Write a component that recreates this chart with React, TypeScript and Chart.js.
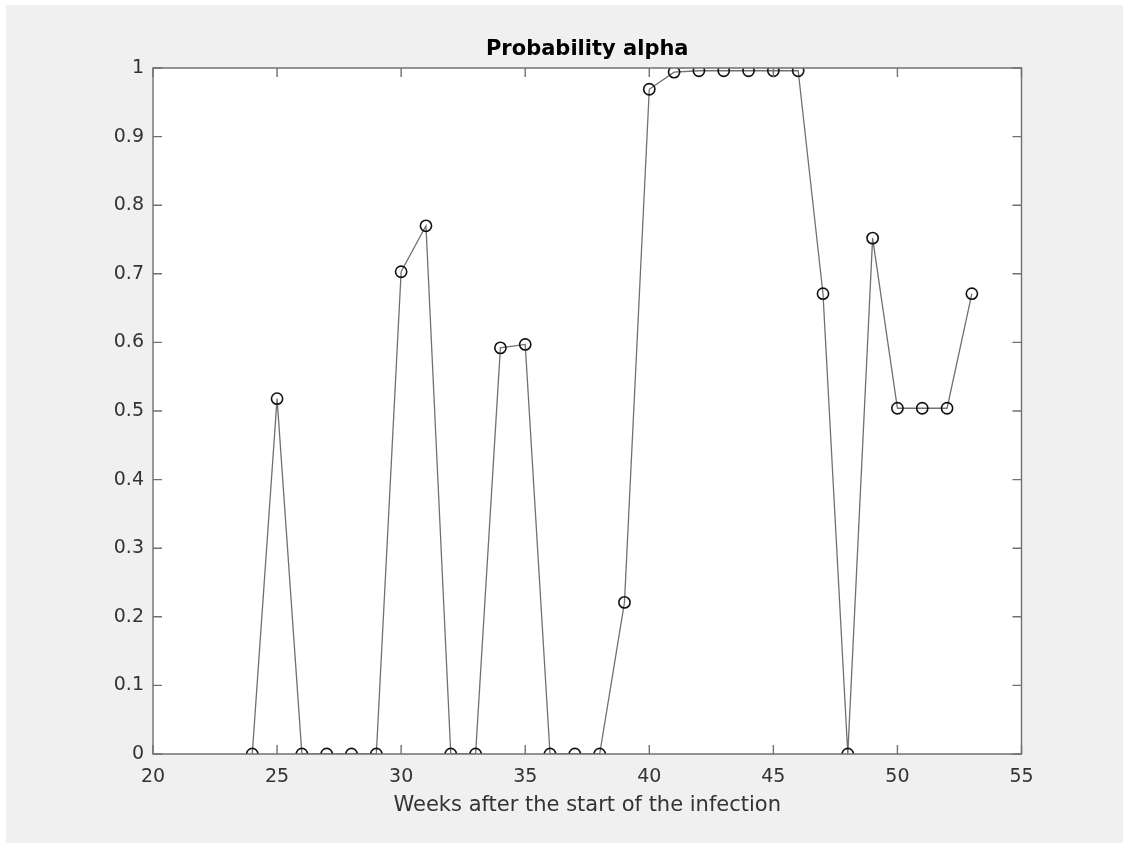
import React, { useEffect, useRef } from "react";
import { Chart, registerables } from "chart.js";

Chart.register(...registerables);

const weeks = [24, 25, 26, 27, 28, 29, 30, 31, 32, 33, 34, 35, 36, 37, 38, 39, 40, 41, 42, 43, 44, 45, 46, 47, 48, 49, 50, 51, 52, 53];
const alpha = [0, 0.518, 0, 0, 0, 0, 0.703, 0.770, 0, 0, 0.592, 0.597, 0, 0, 0, 0.221, 0.969, 0.994, 0.996, 0.996, 0.996, 0.996, 0.996, 0.671, 0, 0.752, 0.504, 0.504, 0.504, 0.671];
const xTicks = [20, 25, 30, 35, 40, 45, 50, 55];
const yTicks = [0, 0.1, 0.2, 0.3, 0.4, 0.5, 0.6, 0.7, 0.8, 0.9, 1];
const yTickLabels = ["0", "0.1", "0.2", "0.3", "0.4", "0.5", "0.6", "0.7", "0.8", "0.9", "1"];
const xTickLabels = ["20", "25", "30", "35", "40", "45", "50", "55"];
const titleText = "Probability alpha";
const xLabelText = "Weeks after the start of the infection";

const FONT = "'DejaVu Sans', sans-serif";

const boxPlugin = {
  id: "matlabBox",
  afterLayout(chart: any) {
    const tb = chart.titleBlock;
    if (tb) {
      tb.left = chart.chartArea.left;
      tb.right = chart.chartArea.right;
    }
  },
  afterDraw(chart: any) {
    const { ctx, chartArea } = chart;
    const { left, right, top, bottom } = chartArea;
    const xs = chart.scales.x;
    const ys = chart.scales.y;
    const tl = 9;
    ctx.save();
    ctx.strokeStyle = "#707070";
    ctx.lineWidth = 1.4;
    ctx.beginPath();
    ctx.rect(left, top, right - left, bottom - top);
    ctx.stroke();
    ctx.beginPath();
    xTicks.forEach((v) => {
      const px = xs.getPixelForValue(v);
      ctx.moveTo(px, bottom);
      ctx.lineTo(px, bottom - tl);
      ctx.moveTo(px, top);
      ctx.lineTo(px, top + tl);
    });
    yTicks.forEach((v) => {
      const py = ys.getPixelForValue(v);
      ctx.moveTo(left, py);
      ctx.lineTo(left + tl, py);
      ctx.moveTo(right, py);
      ctx.lineTo(right - tl, py);
    });
    ctx.stroke();
    ctx.restore();
  },
};

const bgPlugin = {
  id: "areaBg",
  beforeDraw(chart: any) {
    const { ctx, chartArea } = chart;
    ctx.save();
    ctx.fillStyle = "#ffffff";
    ctx.fillRect(chartArea.left, chartArea.top, chartArea.right - chartArea.left, chartArea.bottom - chartArea.top);
    ctx.restore();
  },
};

export default function App() {
  const ref = useRef<HTMLCanvasElement | null>(null);
  useEffect(() => {
    if (!ref.current) return;
    const chart = new Chart(ref.current, {
      type: "line",
      data: {
        datasets: [
          {
            data: weeks.map((w, i) => ({ x: w, y: alpha[i] })),
            borderColor: "#707070",
            borderWidth: 1.3,
            pointRadius: 5.6,
            pointBorderColor: "#111111",
            pointBorderWidth: 1.6,
            pointBackgroundColor: "rgba(0,0,0,0)",
            tension: 0,
            fill: false,
          },
        ],
      },
      options: {
        animation: false,
        responsive: false,
        maintainAspectRatio: false,
        layout: { padding: { left: 0, right: 101.5, top: 0, bottom: 0 } },
        plugins: {
          legend: { display: false },
          tooltip: { enabled: false },
          title: {
            display: true,
            text: titleText,
            color: "#000000",
            font: { family: FONT, size: 21, weight: "bold" },
            padding: { top: 32, bottom: 5.8 },
          },
        },
        scales: {
          x: {
            type: "linear",
            min: 20,
            max: 55,
            afterBuildTicks(scale: any) {
              scale.ticks = xTicks.map((v) => ({ value: v }));
            },
            afterFit(scale: any) {
              scale.height = 89;
            },
            grid: { display: false, drawTicks: false },
            border: { display: false },
            ticks: {
              padding: 12,
              color: "#333333",
              font: { family: FONT, size: 19 },
              maxRotation: 0,
              autoSkip: false,
              callback: (v: any) => {
                const i = xTicks.indexOf(Number(v));
                return i >= 0 ? xTickLabels[i] : "";
              },
            },
            title: {
              display: true,
              text: xLabelText,
              color: "#333333",
              font: { family: FONT, size: 21 },
              padding: { top: 0, bottom: 25 },
            },
          },
          y: {
            type: "linear",
            min: 0,
            max: 1,
            afterBuildTicks(scale: any) {
              scale.ticks = yTicks.map((v) => ({ value: v }));
            },
            afterFit(scale: any) {
              scale.width = 147;
            },
            grid: { display: false, drawTicks: false },
            border: { display: false },
            ticks: {
              padding: 9,
              color: "#333333",
              font: { family: FONT, size: 19 },
              autoSkip: false,
              callback: (v: any) => {
                const i = yTicks.findIndex((t) => Math.abs(t - Number(v)) < 1e-9);
                return i >= 0 ? yTickLabels[i] : "";
              },
            },
          },
        },
      },
      plugins: [bgPlugin, boxPlugin],
    });
    return () => chart.destroy();
  }, []);

  return (
    <div
      style={{
        position: "absolute",
        left: 6,
        top: 5,
        width: 1117,
        height: 838,
        background: "#f0f0f0",
      }}
    >
      <canvas ref={ref} width={1117} height={838} style={{ width: 1117, height: 838, display: "block" }} />
    </div>
  );
}
